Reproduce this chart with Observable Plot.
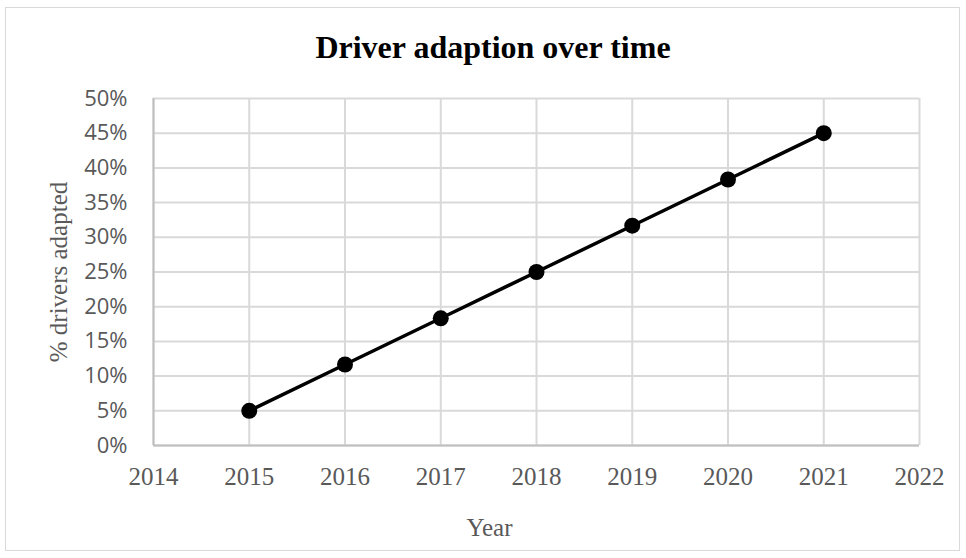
<!DOCTYPE html>
<html>
<head>
<meta charset="utf-8">
<script src="https://cdn.jsdelivr.net/npm/d3@7"></script>
<script src="https://cdn.jsdelivr.net/npm/@observablehq/plot@0.6"></script>
<style>
  html, body { margin: 0; padding: 0; background: #fff; }
  #chart { position: relative; width: 966px; height: 558px; overflow: hidden; }
  #frame { position: absolute; left: 5px; top: 7px; width: 955px; height: 544px;
           border: 1px solid #d9d9d9; box-sizing: border-box; }
  #title { position: absolute; left: 10px; top: 31px; width: 966px; text-align: center;
           font: bold 32px/32px "Liberation Serif", "Times New Roman", serif; color: #000; }
  #plot { position: absolute; left: 0; top: 70px; }
</style>
</head>
<body>
<div id="chart">
  <div id="frame"></div>
  <div id="title">Driver adaption over time</div>
  <div id="plot"></div>
</div>
<script>
// Share of drivers who have adapted, by year
const years = [2015, 2016, 2017, 2018, 2019, 2020, 2021];
const adapted = [0.05, 0.1167, 0.1833, 0.25, 0.3167, 0.3833, 0.45];

// Axis ticks
const xTicks = [2014, 2015, 2016, 2017, 2018, 2019, 2020, 2021, 2022];
const yTicks = [0, 0.05, 0.10, 0.15, 0.20, 0.25, 0.30, 0.35, 0.40, 0.45, 0.50];

const data = years.map((year, i) => ({year, value: adapted[i]}));

const serif = "'Liberation Serif', 'Times New Roman', serif";
const sans = "'Open Sans', 'Liberation Sans', sans-serif";

const chart = Plot.plot({
  width: 966,
  height: 488,
  marginTop: 28,
  marginBottom: 113,
  marginLeft: 153,
  marginRight: 47,
  style: {background: "transparent", overflow: "visible"},
  x: {domain: [2014, 2022]},
  y: {domain: [0, 0.5]},
  marks: [
    Plot.gridX(xTicks, {stroke: "#d9d9d9", strokeOpacity: 1, strokeWidth: 2}),
    Plot.gridY(yTicks, {stroke: "#d9d9d9", strokeOpacity: 1, strokeWidth: 2}),
    Plot.ruleX([2014], {stroke: "#bfbfbf", strokeWidth: 2}),
    Plot.ruleY([0], {stroke: "#bfbfbf", strokeWidth: 2}),
    Plot.axisX(xTicks, {
      tickSize: 0, tickPadding: 22, tickFormat: d => String(d),
      fontFamily: serif, fontSize: 25, fill: "#595959", label: null
    }),
    Plot.axisY(yTicks, {
      tickSize: 0, tickPadding: 26, tickFormat: d => Math.round(d * 100) + "%",
      fontFamily: sans, fontSize: 22, fill: "#595959", label: null
    }),
    Plot.line(data, {x: "year", y: "value", stroke: "#000", strokeWidth: 3.5}),
    Plot.dot(data, {x: "year", y: "value", r: 8, fill: "#000", stroke: "none"}),
    Plot.text(["Year"], {
      frameAnchor: "bottom", dx: -47, dy: 82, lineAnchor: "middle",
      fontFamily: serif, fontSize: 25, fill: "#595959"
    }),
    Plot.text(["% drivers adapted"], {
      frameAnchor: "left", dx: -95, rotate: -90, textAnchor: "middle", lineAnchor: "middle",
      fontFamily: serif, fontSize: 25, fill: "#595959"
    })
  ]
});

document.getElementById("plot").appendChild(chart);
</script>
</body>
</html>
